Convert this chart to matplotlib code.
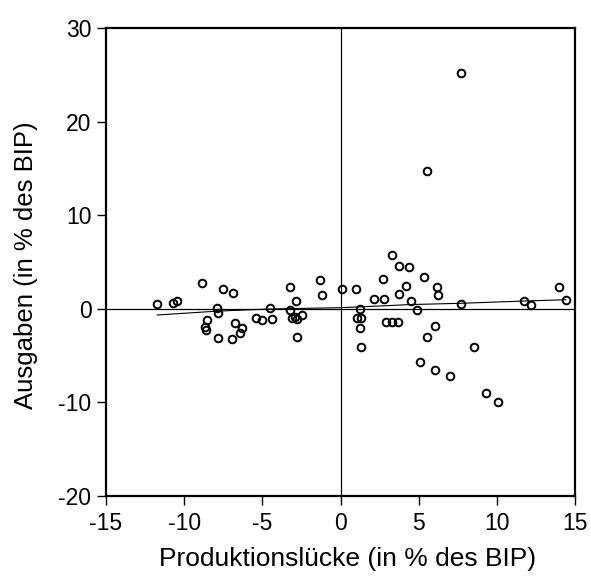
import numpy as np
import matplotlib.pyplot as plt

plt.rcParams['font.family'] = ['Liberation Sans', 'DejaVu Sans']
plt.rcParams['axes.unicode_minus'] = False

# Produktionslücke (x) und Ausgaben (y), in % des BIP
gap = [-11.72, -10.73, -10.48, -8.86, -7.50, -7.88, -7.81, -8.52, -8.65, -8.60,
       -7.81, -6.94, -6.90, -6.75, -6.32, -6.43, -5.40, -5.04, -4.38, -4.51,
       -3.25, -2.84, -3.23, -3.10, -2.90, -2.80, -2.44, -2.76, -1.31, -1.20,
       0.10, 0.97, 1.25, 1.08, 1.30, 1.25, 1.31, 2.13, 2.77, 2.72,
       3.30, 3.75, 4.40, 4.17, 3.75, 4.49, 4.90, 2.93, 3.32, 3.68,
       5.33, 6.18, 6.24, 6.02, 5.54, 5.07, 6.07, 6.99, 7.73, 11.74,
       12.21, 14.00, 14.41, 8.54, 7.73, 5.54, 9.29, 10.08]
spend = [0.48, 0.65, 0.83, 2.72, 2.10, 0.05, -0.42, -1.23, -1.95, -2.30,
         -3.12, -3.26, 1.65, -1.48, -2.00, -2.55, -1.02, -1.23, -1.09, 0.05,
         2.29, 0.80, -0.13, -1.00, -0.90, -1.10, -0.70, -3.01, 3.11, 1.51,
         2.15, 2.15, -0.05, -0.95, -0.95, -2.05, -4.05, 1.05, 1.05, 3.18,
         5.71, 4.54, 4.50, 2.47, 1.61, 0.80, -0.13, -1.41, -1.38, -1.38,
         3.43, 2.30, 1.47, -1.84, -2.98, -5.72, -6.50, -7.18, 0.51, 0.83,
         0.44, 2.36, 0.94, -4.05, 25.22, 14.75, -9.00, -9.92]

# Angepasste Kurve
fit_x = [-11.72, -7.8, -4.5, 0.0, 2.9, 4.4, 7.73, 11.74, 14.41]
fit_y = [-0.66, -0.24, -0.02, 0.12, 0.33, 0.45, 0.59, 0.83, 0.97]

fig = plt.figure(figsize=(5.91, 5.83), dpi=100)
ax = fig.add_axes([0.1794, 0.1492, 0.7936, 0.8028])

ax.axhline(0, color='black', lw=0.9, zorder=1)
ax.axvline(0, color='black', lw=0.9, zorder=1)
ax.plot(fit_x, fit_y, color='black', lw=0.8, zorder=2)
ax.plot(gap, spend, 'o', ms=5.5, mfc='none', mec='black', mew=1.4, zorder=3)

ax.set_xlim(-15, 15)
ax.set_ylim(-20, 30)
ax.set_xticks([-15, -10, -5, 0, 5, 10, 15])
ax.set_yticks([-20, -10, 0, 10, 20, 30])
ax.tick_params(direction='out', length=6.5, width=1, labelsize=16.5,
               top=False, right=False)
ax.tick_params(axis='x', pad=5)
ax.tick_params(axis='y', pad=4)
for s in ax.spines.values():
    s.set_linewidth(1.6)

ax.set_xlabel('Produktionslücke (in % des BIP)', fontsize=19)
ax.set_ylabel('Ausgaben (in % des BIP)', fontsize=18.5)
ax.xaxis.set_label_coords(0.516, -0.108)
ax.yaxis.set_label_coords(-0.145, 0.494)

fig.savefig('out.png', dpi=100)
